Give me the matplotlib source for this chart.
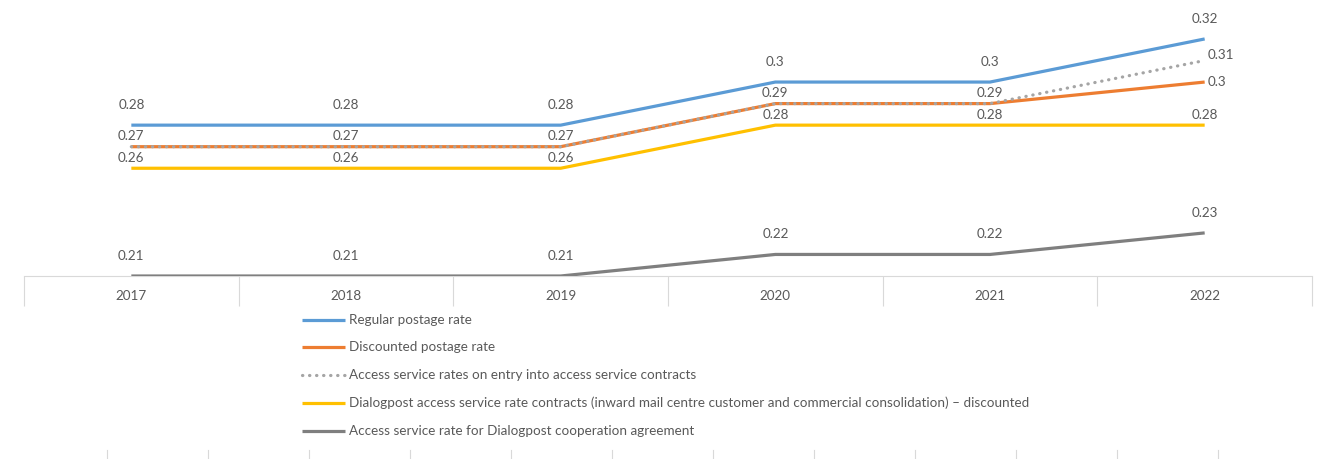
import matplotlib.pyplot as plt
from matplotlib.lines import Line2D

years = ["2017", "2018", "2019", "2020", "2021", "2022"]
regular = [0.28, 0.28, 0.28, 0.30, 0.30, 0.32]
discounted = [0.27, 0.27, 0.27, 0.29, 0.29, 0.30]
access_entry = [0.27, 0.27, 0.27, 0.29, 0.29, 0.31]
dialogpost = [0.26, 0.26, 0.26, 0.28, 0.28, 0.28]
cooperation = [0.21, 0.21, 0.21, 0.22, 0.22, 0.23]

labels = [
    "Regular postage rate",
    "Discounted postage rate",
    "Access service rates on entry into access service contracts",
    "Dialogpost access service rate contracts (inward mail centre customer and commercial consolidation) \u2013 discounted",
    "Access service rate for Dialogpost cooperation agreement",
]

plt.rcParams["font.family"] = ["Lato", "DejaVu Sans"]
TXT = "#595959"
FS = 9.7
W, H = 1322, 459

fig = plt.figure(figsize=(W / 100, H / 100), dpi=100)
ax = fig.add_axes([24 / W, (H - 276) / H, 1288 / W, 276 / H])
x = list(range(len(years)))

lw = 2.3
DOTS = (0, (0.1, 2.1))
ax.plot(x, cooperation, color="#7f7f7f", lw=lw, solid_capstyle="butt", zorder=3)
ax.plot(x, dialogpost, color="#ffc000", lw=lw, solid_capstyle="butt", zorder=3)
ax.plot(x, discounted, color="#ed7d31", lw=lw, solid_capstyle="butt", zorder=3)
ax.plot(x, access_entry, color="#a5a5a5", lw=lw, linestyle=DOTS,
        dash_capstyle="round", zorder=4)
ax.plot(x, regular, color="#5b9bd5", lw=lw, solid_capstyle="butt", zorder=3)


def fmt(v):
    return ("%.2f" % v).rstrip("0")


def annotate(vals, dy, skip_last=False):
    for i, v in enumerate(vals):
        if skip_last and i == len(vals) - 1:
            continue
        ax.annotate(fmt(v), (i, v), xytext=(0, dy * 0.72), textcoords="offset points",
                    ha="center", va="center", fontsize=FS, color=TXT)


annotate(regular, 20)
annotate(access_entry, 11, skip_last=True)
annotate(dialogpost, 10)
annotate(cooperation, 20)
for vals, dy in ((access_entry, 6), (discounted, 0)):
    ax.annotate(fmt(vals[-1]), (len(vals) - 1, vals[-1]), xytext=(3 * 0.72, dy * 0.72),
                textcoords="offset points", ha="left", va="center", fontsize=FS, color=TXT)

ax.set_xlim(-0.5, len(years) - 0.5)
ax.set_ylim(0.21, 0.21 + 276 / 2155)
ax.set_yticks([])
ax.set_xticks([i - 0.5 for i in range(len(years) + 1)], minor=False)
ax.set_xticklabels([])
ax.tick_params(axis="x", length=30 * 0.72, width=0.8, color="#d9d9d9")
for i, yr in enumerate(years):
    ax.annotate(yr, (i, 0.21), xytext=(0, -20 * 0.72), textcoords="offset points",
                ha="center", va="center", fontsize=FS, color=TXT, annotation_clip=False)
for s in ["top", "left", "right"]:
    ax.spines[s].set_visible(False)
ax.spines["bottom"].set_color("#d9d9d9")
ax.spines["bottom"].set_linewidth(0.8)
ax.patch.set_alpha(0)

# legend
styles = [
    dict(color="#5b9bd5", lw=lw, solid_capstyle="butt"),
    dict(color="#ed7d31", lw=lw, solid_capstyle="butt"),
    dict(color="#a5a5a5", lw=lw, linestyle=DOTS, dash_capstyle="round"),
    dict(color="#ffc000", lw=lw, solid_capstyle="butt"),
    dict(color="#7f7f7f", lw=lw, solid_capstyle="butt"),
]
rows = [320, 347, 375, 403, 431]
for lab, st, yy in zip(labels, styles, rows):
    fy = 1 - yy / H
    fig.add_artist(Line2D([302 / W, 345 / W], [fy, fy], transform=fig.transFigure, **st))
    fig.text(349 / W, fy, lab, ha="left", va="center", fontsize=FS, color=TXT)

# ticks of the chart below, cut off at the bottom edge
for tx in range(107, 1230, 101):
    fig.add_artist(Line2D([tx / W, tx / W], [0, 9 / H], transform=fig.transFigure,
                          color="#d9d9d9", lw=0.8))

fig.savefig("out.png", dpi=100)
